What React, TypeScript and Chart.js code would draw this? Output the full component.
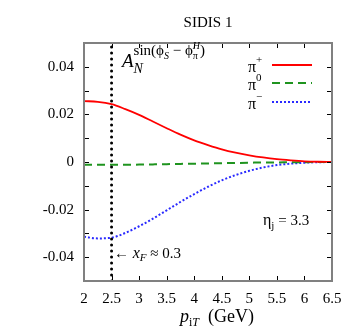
import React, { useEffect, useRef } from "react";
import { Chart, registerables } from "chart.js";

Chart.register(...registerables);

const PT = [2.0, 2.25, 2.5, 2.75, 3.0, 3.25, 3.5, 3.75, 4.0, 4.25, 4.5, 4.75, 5.0, 5.25, 5.5, 5.75, 6.0, 6.25, 6.5];
const PI_PLUS = [0.0256, 0.0253, 0.0243, 0.0222, 0.0198, 0.017, 0.0142, 0.0115, 0.0091, 0.0071, 0.0053, 0.0039, 0.0028, 0.0019, 0.0012, 0.0007, 0.0003, 0.0001, 0.0];
const PI_ZERO = [-0.0012, -0.0012, -0.0012, -0.0012, -0.0011, -0.001, -0.0009, -0.0008, -0.0007, -0.0006, -0.0005, -0.0004, -0.0003, -0.0002, -0.0002, -0.0001, -0.0001, 0.0, 0.0];
const PI_MINUS = [-0.0314, -0.0321, -0.0318, -0.0298, -0.027, -0.0238, -0.0203, -0.0168, -0.0135, -0.0104, -0.0077, -0.0055, -0.0037, -0.0023, -0.0013, -0.0007, -0.0003, -0.0001, 0.0];
const XF_LINE = 2.5;
const X_RANGE = [2, 6.5];
const Y_RANGE = [-0.05, 0.05];
const X_STEP = 0.5;
const Y_STEP = 0.01;
const TITLE = "SIDIS 1";

const SERIF = "'Liberation Serif', 'DejaVu Serif', serif";
const RED = "#ff0000";
const GREEN = "#1f941f";
const BLUE = "#2a2aff";

type Seg = { t: string; size: number; italic?: boolean; dy?: number; stackNext?: boolean };

function drawRich(ctx: CanvasRenderingContext2D, x: number, y: number, segs: Seg[]) {
  let cx = x;
  let stackStart: number | null = null;
  let stackMax = 0;
  for (const s of segs) {
    ctx.font = `${s.italic ? "italic " : ""}${s.size}px ${SERIF}`;
    const w = ctx.measureText(s.t).width;
    const sx = stackStart !== null ? stackStart : cx;
    ctx.fillText(s.t, sx, y + (s.dy || 0));
    if (s.stackNext) {
      stackStart = cx;
      stackMax = w;
    } else if (stackStart !== null) {
      cx = stackStart + Math.max(stackMax, w);
      stackStart = null;
    } else {
      cx += w;
    }
  }
}

const annotPlugin = {
  id: "annot",
  afterDraw(chart: any) {
    const ctx: CanvasRenderingContext2D = chart.ctx;
    const { left, right, top, bottom } = chart.chartArea;
    const xs = chart.scales.x;
    const ys = chart.scales.y;
    ctx.save();
    // inward ticks
    ctx.strokeStyle = "#000";
    ctx.lineWidth = 1;
    const tl = 5;
    for (let v = X_RANGE[0] + X_STEP; v < X_RANGE[1] - 1e-9; v += X_STEP) {
      const px = Math.round(xs.getPixelForValue(v)) + 0.5;
      ctx.beginPath();
      ctx.moveTo(px, bottom);
      ctx.lineTo(px, bottom - tl);
      ctx.moveTo(px, top);
      ctx.lineTo(px, top + tl);
      ctx.stroke();
    }
    for (let v = Y_RANGE[0] + Y_STEP; v < Y_RANGE[1] - 1e-9; v += Y_STEP) {
      const py = Math.round(ys.getPixelForValue(v)) + 0.5;
      ctx.beginPath();
      ctx.moveTo(left, py);
      ctx.lineTo(left + tl, py);
      ctx.moveTo(right, py);
      ctx.lineTo(right - tl, py);
      ctx.stroke();
    }
    // frame
    ctx.strokeStyle = "#808080";
    ctx.lineWidth = 2;
    ctx.strokeRect(left, top, right - left, bottom - top);

    ctx.fillStyle = "#000";
    ctx.textBaseline = "alphabetic";
    // title
    ctx.font = `15px ${SERIF}`;
    ctx.textAlign = "center";
    ctx.fillText(TITLE, (left + right) / 2, 27);
    ctx.textAlign = "left";

    // A_N label
    drawRich(ctx, 122, 67, [
      { t: "A", size: 19, italic: true },
      { t: "N", size: 14, italic: true, dy: 6, stackNext: true },
      { t: "sin(", size: 15, dy: -12 },
      { t: "\u03d5", size: 15, dy: -12 },
      { t: "S", size: 10, italic: true, dy: -8 },
      { t: " \u2212 ", size: 15, dy: -12 },
      { t: "\u03d5", size: 15, dy: -12 },
      { t: "\u03c0", size: 10, dy: -8, stackNext: true },
      { t: "H", size: 10, italic: true, dy: -18 },
      { t: ")", size: 15, dy: -12 },
    ]);

    // legend
    const legend = [
      { sup: "+", color: RED, dash: [] as number[], w: 1.8, y: 65 },
      { sup: "0", color: GREEN, dash: [8, 5], w: 2, y: 83 },
      { sup: "\u2212", color: BLUE, dash: [2, 2], w: 2, y: 102 },
    ];
    for (const l of legend) {
      ctx.fillStyle = "#000";
      drawRich(ctx, 248, l.y + 7, [
        { t: "\u03c0", size: 16 },
        { t: l.sup, size: 11, dy: -9 },
      ]);
      ctx.strokeStyle = l.color;
      ctx.lineWidth = l.w;
      ctx.setLineDash(l.dash);
      ctx.beginPath();
      ctx.moveTo(272, l.y);
      ctx.lineTo(312, l.y);
      ctx.stroke();
      ctx.setLineDash([]);
    }

    ctx.fillStyle = "#000";
    // eta_j
    drawRich(ctx, 263, 225, [
      { t: "\u03b7", size: 16 },
      { t: "j", size: 11, dy: 4 },
      { t: " = 3.3", size: 15 },
    ]);
    // x_F arrow
    drawRich(ctx, 114, 258, [
      { t: "\u2190 ", size: 15 },
      { t: "x", size: 16, italic: true },
      { t: "F", size: 11, italic: true, dy: 3 },
      { t: " \u2248 0.3", size: 15 },
    ]);
    // x-axis title
    drawRich(ctx, 180, 322, [
      { t: "p", size: 18, italic: true },
      { t: "i", size: 12, dy: 4 },
      { t: "T", size: 12, italic: true, dy: 4 },
      { t: "  (GeV)", size: 18 },
    ]);
    ctx.restore();
  },
};

export default function App() {
  const ref = useRef<HTMLCanvasElement | null>(null);
  useEffect(() => {
    if (!ref.current) return;
    const pts = (ys: number[]) => PT.map((x, i) => ({ x, y: ys[i] }));
    const chart = new Chart(ref.current, {
      type: "line",
      data: {
        datasets: [
          {
            data: [
              { x: XF_LINE, y: Y_RANGE[0] },
              { x: XF_LINE, y: Y_RANGE[1] },
            ],
            borderColor: "#000",
            borderWidth: 3,
            borderDash: [0, 6],
            borderCapStyle: "round",
            pointRadius: 0,
          },
          { data: pts(PI_PLUS), borderColor: RED, borderWidth: 1.8, pointRadius: 0, cubicInterpolationMode: "monotone" },
          { data: pts(PI_ZERO), borderColor: GREEN, borderWidth: 2, borderDash: [8, 5], pointRadius: 0, cubicInterpolationMode: "monotone" },
          { data: pts(PI_MINUS), borderColor: BLUE, borderWidth: 2, borderDash: [2, 2], pointRadius: 0, cubicInterpolationMode: "monotone" },
        ],
      },
      options: {
        responsive: false,
        animation: false,
        layout: { padding: { top: 43, right: 22, left: 0, bottom: 0 } },
        plugins: { legend: { display: false }, tooltip: { enabled: false }, title: { display: false } },
        scales: {
          x: {
            type: "linear",
            min: X_RANGE[0],
            max: X_RANGE[1],
            grid: { display: false },
            border: { display: false },
            ticks: {
              stepSize: X_STEP,
              color: "#000",
              font: { family: SERIF, size: 15 },
              padding: 1,
              maxRotation: 0,
              autoSkip: false,
              callback: (v: any) => String(Math.round(Number(v) * 10) / 10),
            },
            afterFit: (s: any) => {
              s.height = 47;
            },
          },
          y: {
            type: "linear",
            min: Y_RANGE[0],
            max: Y_RANGE[1],
            grid: { display: false },
            border: { display: false },
            ticks: {
              stepSize: Y_STEP,
              color: "#000",
              font: { family: SERIF, size: 15 },
              padding: 2,
              autoSkip: false,
              callback: (v: any) => {
                const n = Math.round(Number(v) * 100);
                if (n % 2 !== 0 || Math.abs(n) > 4) return "";
                return String(n / 100);
              },
            },
            afterFit: (s: any) => {
              s.width = 84;
            },
          },
        },
      },
      plugins: [annotPlugin],
    });
    return () => chart.destroy();
  }, []);
  return (
    <div style={{ position: "absolute", left: 0, top: 0, width: 354, height: 328, background: "#fff" }}>
      <canvas ref={ref} width={354} height={328} style={{ display: "block", width: 354, height: 328 }} />
    </div>
  );
}
